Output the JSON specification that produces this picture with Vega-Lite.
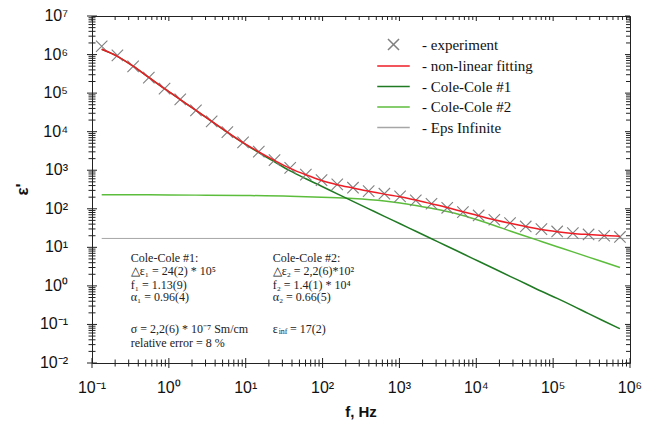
{
  "$schema": "https://vega.github.io/schema/vega-lite/v6.json",
  "autosize": "none",
  "width": 538,
  "height": 347,
  "padding": {"left": 92, "top": 16, "right": 22, "bottom": 62},
  "background": "white",
  "config": {
    "view": {"stroke": "#222", "strokeWidth": 1},
    "axis": {"grid": false}
  },
  "datasets": {
    "curves": [
      {"f": 0.1337, "eps": 1640000, "series": "experiment"},
      {"f": 0.2141, "eps": 955000, "series": "experiment"},
      {"f": 0.3428, "eps": 495000, "series": "experiment"},
      {"f": 0.5487, "eps": 252000, "series": "experiment"},
      {"f": 0.879, "eps": 131000, "series": "experiment"},
      {"f": 1.407, "eps": 68900, "series": "experiment"},
      {"f": 2.252, "eps": 35700, "series": "experiment"},
      {"f": 3.606, "eps": 18500, "series": "experiment"},
      {"f": 5.77, "eps": 9750, "series": "experiment"},
      {"f": 9.24, "eps": 5270, "series": "experiment"},
      {"f": 14.8, "eps": 3030, "series": "experiment"},
      {"f": 23.7, "eps": 1830, "series": "experiment"},
      {"f": 37.9, "eps": 1150, "series": "experiment"},
      {"f": 60.6, "eps": 769, "series": "experiment"},
      {"f": 97.0, "eps": 555, "series": "experiment"},
      {"f": 155.3, "eps": 429, "series": "experiment"},
      {"f": 248.7, "eps": 352, "series": "experiment"},
      {"f": 398, "eps": 287, "series": "experiment"},
      {"f": 637, "eps": 246, "series": "experiment"},
      {"f": 1020, "eps": 209, "series": "experiment"},
      {"f": 1633, "eps": 165, "series": "experiment"},
      {"f": 2614, "eps": 135, "series": "experiment"},
      {"f": 4185, "eps": 106, "series": "experiment"},
      {"f": 6700, "eps": 81.8, "series": "experiment"},
      {"f": 10730, "eps": 67.1, "series": "experiment"},
      {"f": 17170, "eps": 52.0, "series": "experiment"},
      {"f": 27490, "eps": 42.5, "series": "experiment"},
      {"f": 44000, "eps": 34.8, "series": "experiment"},
      {"f": 70400, "eps": 29.6, "series": "experiment"},
      {"f": 112800, "eps": 25.8, "series": "experiment"},
      {"f": 180500, "eps": 23.3, "series": "experiment"},
      {"f": 289000, "eps": 21.6, "series": "experiment"},
      {"f": 462000, "eps": 20.0, "series": "experiment"},
      {"f": 740000, "eps": 18.6, "series": "experiment"},

      {"f": 0.1337, "eps": 1370000, "series": "non-linear fitting"},
      {"f": 0.2141, "eps": 900000, "series": "non-linear fitting"},
      {"f": 0.3428, "eps": 500000, "series": "non-linear fitting"},
      {"f": 0.5487, "eps": 255000, "series": "non-linear fitting"},
      {"f": 0.879, "eps": 130000, "series": "non-linear fitting"},
      {"f": 1.407, "eps": 68000, "series": "non-linear fitting"},
      {"f": 2.252, "eps": 35500, "series": "non-linear fitting"},
      {"f": 3.606, "eps": 18500, "series": "non-linear fitting"},
      {"f": 5.77, "eps": 9700, "series": "non-linear fitting"},
      {"f": 9.24, "eps": 5200, "series": "non-linear fitting"},
      {"f": 14.8, "eps": 3000, "series": "non-linear fitting"},
      {"f": 23.7, "eps": 1800, "series": "non-linear fitting"},
      {"f": 37.9, "eps": 1120, "series": "non-linear fitting"},
      {"f": 60.6, "eps": 760, "series": "non-linear fitting"},
      {"f": 97.0, "eps": 540, "series": "non-linear fitting"},
      {"f": 155.3, "eps": 420, "series": "non-linear fitting"},
      {"f": 248.7, "eps": 345, "series": "non-linear fitting"},
      {"f": 398, "eps": 285, "series": "non-linear fitting"},
      {"f": 637, "eps": 240, "series": "non-linear fitting"},
      {"f": 1020, "eps": 205, "series": "non-linear fitting"},
      {"f": 1633, "eps": 168, "series": "non-linear fitting"},
      {"f": 2614, "eps": 135, "series": "non-linear fitting"},
      {"f": 4185, "eps": 108, "series": "non-linear fitting"},
      {"f": 6700, "eps": 84, "series": "non-linear fitting"},
      {"f": 10730, "eps": 66, "series": "non-linear fitting"},
      {"f": 17170, "eps": 52, "series": "non-linear fitting"},
      {"f": 27490, "eps": 42, "series": "non-linear fitting"},
      {"f": 44000, "eps": 34.5, "series": "non-linear fitting"},
      {"f": 70400, "eps": 29, "series": "non-linear fitting"},
      {"f": 112800, "eps": 25.5, "series": "non-linear fitting"},
      {"f": 180500, "eps": 23, "series": "non-linear fitting"},
      {"f": 289000, "eps": 21.5, "series": "non-linear fitting"},
      {"f": 462000, "eps": 20.3, "series": "non-linear fitting"},
      {"f": 740000, "eps": 19.3, "series": "non-linear fitting"},

      {"f": 0.1337, "eps": 1370000, "series": "Cole-Cole #1"},
      {"f": 0.2141, "eps": 900000, "series": "Cole-Cole #1"},
      {"f": 0.3428, "eps": 500000, "series": "Cole-Cole #1"},
      {"f": 0.5487, "eps": 255000, "series": "Cole-Cole #1"},
      {"f": 0.879, "eps": 130000, "series": "Cole-Cole #1"},
      {"f": 1.407, "eps": 68000, "series": "Cole-Cole #1"},
      {"f": 2.252, "eps": 35500, "series": "Cole-Cole #1"},
      {"f": 3.606, "eps": 18500, "series": "Cole-Cole #1"},
      {"f": 5.77, "eps": 9650, "series": "Cole-Cole #1"},
      {"f": 9.24, "eps": 5150, "series": "Cole-Cole #1"},
      {"f": 14.8, "eps": 2850, "series": "Cole-Cole #1"},
      {"f": 23.7, "eps": 1650, "series": "Cole-Cole #1"},
      {"f": 37.9, "eps": 960, "series": "Cole-Cole #1"},
      {"f": 60.6, "eps": 600, "series": "Cole-Cole #1"},
      {"f": 97.0, "eps": 385, "series": "Cole-Cole #1"},
      {"f": 155.3, "eps": 244, "series": "Cole-Cole #1"},
      {"f": 248.7, "eps": 156, "series": "Cole-Cole #1"},
      {"f": 398, "eps": 99.7, "series": "Cole-Cole #1"},
      {"f": 637, "eps": 63.7, "series": "Cole-Cole #1"},
      {"f": 1020, "eps": 40.9, "series": "Cole-Cole #1"},
      {"f": 1633, "eps": 26.1, "series": "Cole-Cole #1"},
      {"f": 2614, "eps": 16.7, "series": "Cole-Cole #1"},
      {"f": 4185, "eps": 10.7, "series": "Cole-Cole #1"},
      {"f": 6700, "eps": 6.81, "series": "Cole-Cole #1"},
      {"f": 10730, "eps": 4.35, "series": "Cole-Cole #1"},
      {"f": 17170, "eps": 2.78, "series": "Cole-Cole #1"},
      {"f": 27490, "eps": 1.77, "series": "Cole-Cole #1"},
      {"f": 44000, "eps": 1.135, "series": "Cole-Cole #1"},
      {"f": 70400, "eps": 0.724, "series": "Cole-Cole #1"},
      {"f": 112800, "eps": 0.473, "series": "Cole-Cole #1"},
      {"f": 180500, "eps": 0.303, "series": "Cole-Cole #1"},
      {"f": 289000, "eps": 0.19, "series": "Cole-Cole #1"},
      {"f": 462000, "eps": 0.121, "series": "Cole-Cole #1"},
      {"f": 740000, "eps": 0.0776, "series": "Cole-Cole #1"},

      {"f": 0.1337, "eps": 232, "series": "Cole-Cole #2"},
      {"f": 0.5487, "eps": 230, "series": "Cole-Cole #2"},
      {"f": 2.252, "eps": 226, "series": "Cole-Cole #2"},
      {"f": 9.24, "eps": 221, "series": "Cole-Cole #2"},
      {"f": 37.9, "eps": 212, "series": "Cole-Cole #2"},
      {"f": 97.0, "eps": 200, "series": "Cole-Cole #2"},
      {"f": 248.7, "eps": 186, "series": "Cole-Cole #2"},
      {"f": 637, "eps": 160, "series": "Cole-Cole #2"},
      {"f": 1020, "eps": 142, "series": "Cole-Cole #2"},
      {"f": 1633, "eps": 122, "series": "Cole-Cole #2"},
      {"f": 2614, "eps": 103, "series": "Cole-Cole #2"},
      {"f": 4185, "eps": 85.3, "series": "Cole-Cole #2"},
      {"f": 6700, "eps": 67.1, "series": "Cole-Cole #2"},
      {"f": 10730, "eps": 50.4, "series": "Cole-Cole #2"},
      {"f": 17170, "eps": 37.0, "series": "Cole-Cole #2"},
      {"f": 27490, "eps": 26.6, "series": "Cole-Cole #2"},
      {"f": 44000, "eps": 19.4, "series": "Cole-Cole #2"},
      {"f": 70400, "eps": 14.2, "series": "Cole-Cole #2"},
      {"f": 112800, "eps": 10.4, "series": "Cole-Cole #2"},
      {"f": 180500, "eps": 7.64, "series": "Cole-Cole #2"},
      {"f": 289000, "eps": 5.56, "series": "Cole-Cole #2"},
      {"f": 462000, "eps": 4.10, "series": "Cole-Cole #2"},
      {"f": 740000, "eps": 3.01, "series": "Cole-Cole #2"},

      {"f": 0.1337, "eps": 17, "series": "Eps Infinite"},
      {"f": 1000000, "eps": 17, "series": "Eps Infinite"}
    ],
    "notes": [
      {"f": 0.319, "eps": 5.14, "t": "Cole-Cole #1:"},
      {"f": 0.319, "eps": 2.37, "t": "△ε₁ = 24(2) * 10⁵"},
      {"f": 0.319, "eps": 1.07, "t": "f₁ = 1.13(9)"},
      {"f": 0.319, "eps": 0.50, "t": "α₁ = 0.96(4)"},
      {"f": 0.319, "eps": 0.0760, "t": "σ = 2,2(6) * 10⁻⁷ Sm/cm"},
      {"f": 0.319, "eps": 0.0334, "t": "relative error = 8 %"},
      {"f": 22.4, "eps": 5.14, "t": "Cole-Cole #2:"},
      {"f": 22.4, "eps": 2.37, "t": "△ε₂ = 2,2(6)*10²"},
      {"f": 22.4, "eps": 1.07, "t": "f₂ = 1.4(1) * 10⁴"},
      {"f": 22.4, "eps": 0.50, "t": "α₂ = 0.66(5)"},
      {"f": 22.4, "eps": 0.0760, "t": "ε"},
      {"f": 37.7, "eps": 0.0760, "t": "= 17(2)"}
    ],
    "subs": [
      {"f": 22.4, "eps": 0.0760, "t": "inf"}
    ],
    "xmaj": [{"v": 0.1, "lab": "10⁻¹"}, {"v": 1, "lab": "10⁰"}, {"v": 10, "lab": "10¹"}, {"v": 100, "lab": "10²"}, {"v": 1000, "lab": "10³"}, {"v": 10000, "lab": "10⁴"}, {"v": 100000, "lab": "10⁵"}, {"v": 1000000, "lab": "10⁶"}],
    "xmin": [{"v":0.2},{"v":0.3},{"v":0.4},{"v":0.5},{"v":0.6},{"v":0.7},{"v":0.8},{"v":0.9},
             {"v":2},{"v":3},{"v":4},{"v":5},{"v":6},{"v":7},{"v":8},{"v":9},
             {"v":20},{"v":30},{"v":40},{"v":50},{"v":60},{"v":70},{"v":80},{"v":90},
             {"v":200},{"v":300},{"v":400},{"v":500},{"v":600},{"v":700},{"v":800},{"v":900},
             {"v":2000},{"v":3000},{"v":4000},{"v":5000},{"v":6000},{"v":7000},{"v":8000},{"v":9000},
             {"v":20000},{"v":30000},{"v":40000},{"v":50000},{"v":60000},{"v":70000},{"v":80000},{"v":90000},
             {"v":200000},{"v":300000},{"v":400000},{"v":500000},{"v":600000},{"v":700000},{"v":800000},{"v":900000}],
    "ymaj": [{"v": 0.01, "lab": "10⁻²"}, {"v": 0.1, "lab": "10⁻¹"}, {"v": 1, "lab": "10⁰"}, {"v": 10, "lab": "10¹"}, {"v": 100, "lab": "10²"}, {"v": 1000, "lab": "10³"}, {"v": 10000, "lab": "10⁴"}, {"v": 100000, "lab": "10⁵"}, {"v": 1000000, "lab": "10⁶"}, {"v": 10000000, "lab": "10⁷"}],
    "ymin": [{"v":0.02},{"v":0.03},{"v":0.04},{"v":0.05},{"v":0.06},{"v":0.07},{"v":0.08},{"v":0.09},
             {"v":0.2},{"v":0.3},{"v":0.4},{"v":0.5},{"v":0.6},{"v":0.7},{"v":0.8},{"v":0.9},
             {"v":2},{"v":3},{"v":4},{"v":5},{"v":6},{"v":7},{"v":8},{"v":9},
             {"v":20},{"v":30},{"v":40},{"v":50},{"v":60},{"v":70},{"v":80},{"v":90},
             {"v":200},{"v":300},{"v":400},{"v":500},{"v":600},{"v":700},{"v":800},{"v":900},
             {"v":2000},{"v":3000},{"v":4000},{"v":5000},{"v":6000},{"v":7000},{"v":8000},{"v":9000},
             {"v":20000},{"v":30000},{"v":40000},{"v":50000},{"v":60000},{"v":70000},{"v":80000},{"v":90000},
             {"v":200000},{"v":300000},{"v":400000},{"v":500000},{"v":600000},{"v":700000},{"v":800000},{"v":900000},
             {"v":2000000},{"v":3000000},{"v":4000000},{"v":5000000},{"v":6000000},{"v":7000000},{"v":8000000},{"v":9000000}]
  },
  "layer": [
    {
      "data": {"name": "curves"},
      "transform": [{"filter": "datum.series === 'Eps Infinite'"}],
      "mark": {"type": "line", "strokeWidth": 1},
      "encoding": {
        "x": {"field": "f", "type": "quantitative", "scale": {"type": "log", "domain": [0.1, 1000000], "nice": false}, "axis": null},
        "y": {"field": "eps", "type": "quantitative", "scale": {"type": "log", "domain": [0.01, 10000000], "nice": false}, "axis": null},
        "color": {"field": "series", "type": "nominal",
          "scale": {"domain": ["experiment", "non-linear fitting", "Cole-Cole #1", "Cole-Cole #2", "Eps Infinite"],
                    "range": ["#808080", "#ee1c24", "#1f7a23", "#5cbd3c", "#a6a6a6"]},
          "legend": {"orient": "none", "legendX": 294, "legendY": 21, "padding": 0, "title": null,
            "rowPadding": 4.5, "labelOffset": 21, "symbolSize": 169, "symbolStrokeWidth": 1.5,
            "labelFont": "Liberation Serif", "labelFontSize": 15, "labelColor": "#111", "labelLimit": 400,
            "labelExpr": "'- ' + datum.label",
            "encode": {"symbols": {"update": {
              "shape": {"signal": "datum.value === 'experiment' ? 'M-0.85,-0.85L0.85,0.85M-0.85,0.85L0.85,-0.85' : 'M-2.5,0L2.5,0'"},
              "size": {"value": 169},
              "strokeWidth": {"value": 1.5},
              "fill": {"value": "transparent"},
              "opacity": {"value": 1}}}}}}
      }
    },
    {
      "data": {"name": "curves"},
      "transform": [{"filter": "datum.series === 'Cole-Cole #2'"}],
      "mark": {"type": "line", "strokeWidth": 1.5, "interpolate": "monotone"},
      "encoding": {
        "x": {"field": "f", "type": "quantitative", "scale": {"type": "log", "domain": [0.1, 1000000], "nice": false}, "axis": null},
        "y": {"field": "eps", "type": "quantitative", "scale": {"type": "log", "domain": [0.01, 10000000], "nice": false}, "axis": null},
        "color": {"field": "series", "type": "nominal"}
      }
    },
    {
      "data": {"name": "curves"},
      "transform": [{"filter": "datum.series === 'Cole-Cole #1'"}],
      "mark": {"type": "line", "strokeWidth": 1.5, "interpolate": "monotone"},
      "encoding": {
        "x": {"field": "f", "type": "quantitative", "scale": {"type": "log", "domain": [0.1, 1000000], "nice": false}, "axis": null},
        "y": {"field": "eps", "type": "quantitative", "scale": {"type": "log", "domain": [0.01, 10000000], "nice": false}, "axis": null},
        "color": {"field": "series", "type": "nominal"}
      }
    },
    {
      "data": {"name": "curves"},
      "transform": [{"filter": "datum.series === 'experiment'"}],
      "mark": {"type": "point", "shape": "M-1,-1L1,1M-1,1L1,-1", "filled": false, "size": 130, "strokeWidth": 1.1, "opacity": 1},
      "encoding": {
        "x": {"field": "f", "type": "quantitative", "scale": {"type": "log", "domain": [0.1, 1000000], "nice": false}, "axis": null},
        "y": {"field": "eps", "type": "quantitative", "scale": {"type": "log", "domain": [0.01, 10000000], "nice": false}, "axis": null},
        "color": {"field": "series", "type": "nominal"}
      }
    },
    {
      "data": {"name": "curves"},
      "transform": [{"filter": "datum.series === 'non-linear fitting'"}],
      "mark": {"type": "line", "strokeWidth": 1.5, "interpolate": "monotone"},
      "encoding": {
        "x": {"field": "f", "type": "quantitative", "scale": {"type": "log", "domain": [0.1, 1000000], "nice": false}, "axis": null},
        "y": {"field": "eps", "type": "quantitative", "scale": {"type": "log", "domain": [0.01, 10000000], "nice": false}, "axis": null},
        "color": {"field": "series", "type": "nominal"}
      }
    },
    {
      "data": {"name": "notes"},
      "mark": {"type": "text", "align": "left", "baseline": "middle", "font": "Liberation Serif", "fontSize": 12, "color": "#222"},
      "encoding": {
        "x": {"field": "f", "type": "quantitative", "scale": {"type": "log", "domain": [0.1, 1000000], "nice": false}, "axis": null},
        "y": {"field": "eps", "type": "quantitative", "scale": {"type": "log", "domain": [0.01, 10000000], "nice": false}, "axis": null},
        "text": {"field": "t"}
      }
    },
    {
      "data": {"name": "subs"},
      "mark": {"type": "text", "align": "left", "baseline": "middle", "font": "Liberation Serif", "fontSize": 8, "dx": 6, "dy": 3, "color": "#222"},
      "encoding": {
        "x": {"field": "f", "type": "quantitative", "scale": {"type": "log", "domain": [0.1, 1000000], "nice": false}, "axis": null},
        "y": {"field": "eps", "type": "quantitative", "scale": {"type": "log", "domain": [0.01, 10000000], "nice": false}, "axis": null},
        "text": {"field": "t"}
      }
    },
    {
      "data": {"name": "xmaj"},
      "mark": {"type": "tick", "orient": "vertical", "size": 10, "thickness": 1, "color": "#222", "opacity": 1},
      "encoding": {
        "x": {"field": "v", "type": "quantitative", "scale": {"type": "log", "domain": [0.1, 1000000], "nice": false}, "axis": null},
        "y": {"datum": 0.01, "type": "quantitative", "scale": {"type": "log", "domain": [0.01, 10000000], "nice": false}, "axis": null}
      }
    },
    {
      "data": {"name": "xmin"},
      "mark": {"type": "tick", "orient": "vertical", "size": 7, "thickness": 1, "color": "#222", "opacity": 1},
      "encoding": {
        "x": {"field": "v", "type": "quantitative", "scale": {"type": "log", "domain": [0.1, 1000000], "nice": false}, "axis": null},
        "y": {"datum": 0.01, "type": "quantitative", "scale": {"type": "log", "domain": [0.01, 10000000], "nice": false}, "axis": null}
      }
    },
    {
      "data": {"name": "xmaj"},
      "mark": {"type": "tick", "orient": "vertical", "size": 5, "thickness": 1, "color": "#222", "opacity": 1, "yOffset": 2.5},
      "encoding": {
        "x": {"field": "v", "type": "quantitative", "scale": {"type": "log", "domain": [0.1, 1000000], "nice": false}, "axis": null},
        "y": {"datum": 10000000, "type": "quantitative", "scale": {"type": "log", "domain": [0.01, 10000000], "nice": false}, "axis": null}
      }
    },
    {
      "data": {"name": "xmin"},
      "mark": {"type": "tick", "orient": "vertical", "size": 4, "thickness": 1, "color": "#222", "opacity": 1, "yOffset": 2},
      "encoding": {
        "x": {"field": "v", "type": "quantitative", "scale": {"type": "log", "domain": [0.1, 1000000], "nice": false}, "axis": null},
        "y": {"datum": 10000000, "type": "quantitative", "scale": {"type": "log", "domain": [0.01, 10000000], "nice": false}, "axis": null}
      }
    },
    {
      "data": {"name": "ymaj"},
      "mark": {"type": "tick", "orient": "horizontal", "size": 10, "thickness": 1, "color": "#222", "opacity": 1},
      "encoding": {
        "y": {"field": "v", "type": "quantitative", "scale": {"type": "log", "domain": [0.01, 10000000], "nice": false}, "axis": null},
        "x": {"datum": 0.1, "type": "quantitative", "scale": {"type": "log", "domain": [0.1, 1000000], "nice": false}, "axis": null}
      }
    },
    {
      "data": {"name": "ymin"},
      "mark": {"type": "tick", "orient": "horizontal", "size": 7, "thickness": 1, "color": "#222", "opacity": 1},
      "encoding": {
        "y": {"field": "v", "type": "quantitative", "scale": {"type": "log", "domain": [0.01, 10000000], "nice": false}, "axis": null},
        "x": {"datum": 0.1, "type": "quantitative", "scale": {"type": "log", "domain": [0.1, 1000000], "nice": false}, "axis": null}
      }
    },
    {
      "data": {"name": "ymaj"},
      "mark": {"type": "tick", "orient": "horizontal", "size": 5, "thickness": 1, "color": "#222", "opacity": 1, "xOffset": -2.5},
      "encoding": {
        "y": {"field": "v", "type": "quantitative", "scale": {"type": "log", "domain": [0.01, 10000000], "nice": false}, "axis": null},
        "x": {"datum": 1000000, "type": "quantitative", "scale": {"type": "log", "domain": [0.1, 1000000], "nice": false}, "axis": null}
      }
    },
    {
      "data": {"name": "ymin"},
      "mark": {"type": "tick", "orient": "horizontal", "size": 4, "thickness": 1, "color": "#222", "opacity": 1, "xOffset": -2},
      "encoding": {
        "y": {"field": "v", "type": "quantitative", "scale": {"type": "log", "domain": [0.01, 10000000], "nice": false}, "axis": null},
        "x": {"datum": 1000000, "type": "quantitative", "scale": {"type": "log", "domain": [0.1, 1000000], "nice": false}, "axis": null}
      }
    },
    {
      "data": {"name": "xmaj"},
      "mark": {"type": "text", "align": "center", "baseline": "top", "dy": 17, "font": "Liberation Sans", "fontSize": 16, "color": "#111"},
      "encoding": {
        "x": {"field": "v", "type": "quantitative", "scale": {"type": "log", "domain": [0.1, 1000000], "nice": false}, "axis": null},
        "y": {"datum": 0.01, "type": "quantitative", "scale": {"type": "log", "domain": [0.01, 10000000], "nice": false}, "axis": null},
        "text": {"field": "lab"}
      }
    },
    {
      "data": {"name": "ymaj"},
      "mark": {"type": "text", "align": "right", "baseline": "middle", "dx": -24, "font": "Liberation Sans", "fontSize": 16, "color": "#111"},
      "encoding": {
        "y": {"field": "v", "type": "quantitative", "scale": {"type": "log", "domain": [0.01, 10000000], "nice": false}, "axis": null},
        "x": {"datum": 0.1, "type": "quantitative", "scale": {"type": "log", "domain": [0.1, 1000000], "nice": false}, "axis": null},
        "text": {"field": "lab"}
      }
    },
    {
      "data": {"values": [{}]},
      "mark": {"type": "text", "text": "f, Hz", "align": "center", "baseline": "middle", "dy": 49, "font": "Liberation Sans", "fontSize": 15, "fontWeight": "bold", "color": "#111"},
      "encoding": {
        "x": {"datum": 316.23, "type": "quantitative", "scale": {"type": "log", "domain": [0.1, 1000000], "nice": false}, "axis": null},
        "y": {"datum": 0.01, "type": "quantitative", "scale": {"type": "log", "domain": [0.01, 10000000], "nice": false}, "axis": null}
      }
    },
    {
      "data": {"values": [{}]},
      "mark": {"type": "text", "text": "ε'", "align": "center", "baseline": "middle", "angle": 270, "dy": -69, "font": "Liberation Sans", "fontSize": 17, "fontWeight": "bold", "color": "#111"},
      "encoding": {
        "x": {"datum": 0.1, "type": "quantitative", "scale": {"type": "log", "domain": [0.1, 1000000], "nice": false}, "axis": null},
        "y": {"datum": 316.23, "type": "quantitative", "scale": {"type": "log", "domain": [0.01, 10000000], "nice": false}, "axis": null}
      }
    }
  ]
}
